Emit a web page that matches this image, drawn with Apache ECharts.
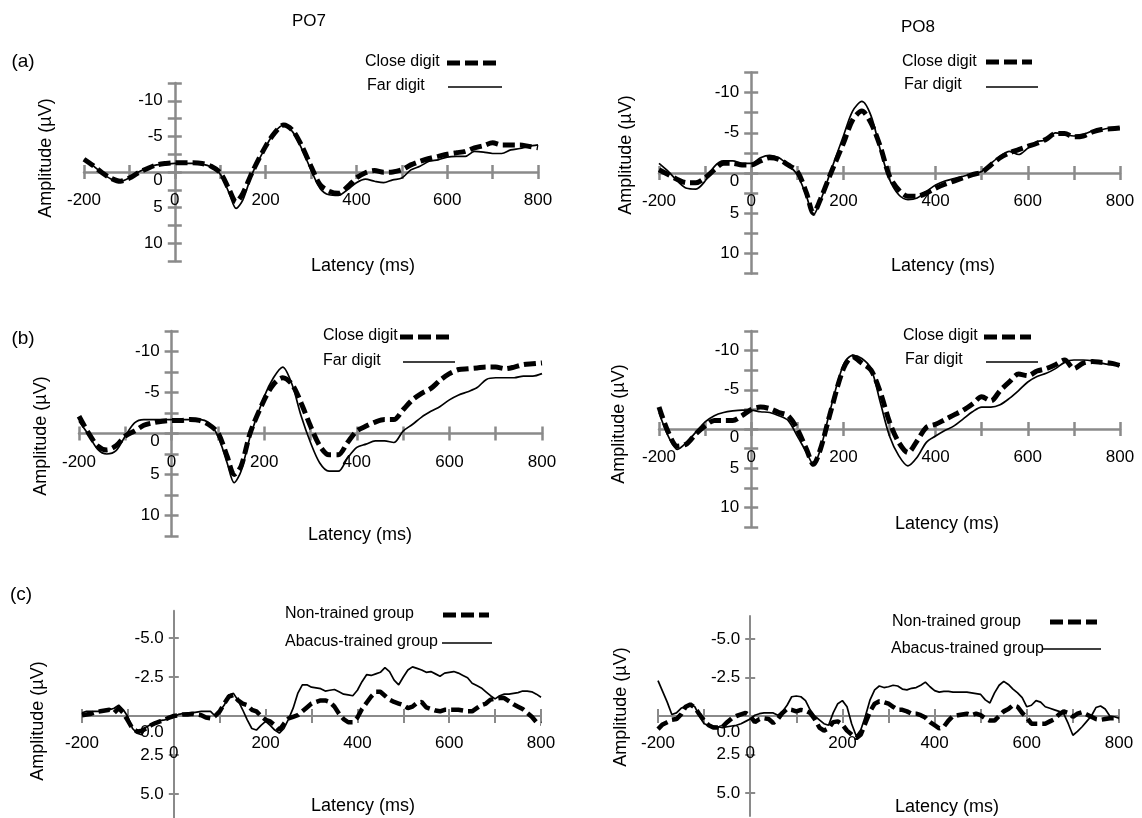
<!DOCTYPE html>
<html><head><meta charset="utf-8">
<script src="https://cdn.jsdelivr.net/npm/echarts@6/dist/echarts.min.js"></script>
<style>html,body{margin:0;padding:0;background:#fff;}#c{width:1142px;height:818px;}</style>
</head><body><div id="c"></div>
<script>
// ---------- DATA ----------
const latencyAB = [-200,-180,-160,-140,-120,-100,-80,-60,-40,-20,0,20,40,60,80,100,120,135,150,170,200,220,240,260,280,300,320,340,360,380,400,420,440,460,480,500,520,540,560,580,600,620,640,660,680,700,720,740,760,780,800];

const po7A_close = [-1.8,-0.9,0.1,0.9,1.3,0.85,0.1,-0.5,-1.0,-1.2,-1.3,-1.3,-1.3,-1.2,-0.8,0.1,2.5, 4.2,3.0,0.1, -3.6,-5.5,-6.6,-5.8,-3.6,-0.8,1.8,2.7,3.0,2.1, 0.85,0.1,-0.2,0.05,0,-0.3,-1.0,-1.5,-1.9,-2.2, -2.5,-2.7,-2.9,-3.4,-3.7,-4.1,-3.8,-3.8,-3.8,-3.6, -3.4];
const po7A_far = [-1.8,-0.9,0.2,1.0,1.3,0.8,0.0,-0.6,-1.0,-1.1,-1.2,-1.2,-1.2,-1.1,-0.7,0.3,3.0, 5.1,3.9,0.3, -3.5,-5.6,-6.6,-5.6,-3.2,-0.3,2.3,3.2,3.3,2.5, 1.5,1.0,1.3,1.5,1.1,0.85,-0.3,-0.8,-1.5,-1.7, -2.1,-2.2,-2.2,-2.9,-2.8,-2.6,-2.6,-3.1,-3.3,-3.6, -3.8];
const po8A_close = [-0.4,0.2,0.8,1.2,1.2,0.6,-0.4,-1.2,-1.2,-1.0,-1.0,-1.5,-1.9,-1.7,-1.0,-0.2,2.5, 5.0,3.3,0.4, -3.7,-6.6,-7.7,-6.2,-3.3,0.4,2.1,2.9,2.9,2.5, 1.9,1.4,1.0,0.6,0.2,-0.1,-1.0,-1.9,-2.5,-2.9, -3.3,-3.7,-4.2,-4.9,-4.9,-4.5,-4.6,-5.1,-5.4,-5.5, -5.6];
const po8A_far = [-1.2,-0.2,1.0,1.9,2.0,1.0,-0.8,-1.5,-1.5,-1.2,-1.2,-1.9,-2.2,-1.9,-1.0,0.2,2.9, 5.2,3.5,0.2, -4.6,-7.7,-8.9,-7.1,-2.9,0.8,2.7,3.3,3.1,2.3, 1.5,1.0,0.7,0.4,0.1,-0.2,-1.2,-2.1,-2.7,-2.3, -3.1,-3.9,-4.1,-5.0,-4.8,-4.6,-4.8,-5.2,-5.4,-5.6, -5.6];
const po7B_close = [-2.1,-0.1,1.5,2.0,1.5,0.3,-0.3,-1.0,-1.3,-1.5,-1.6,-1.6,-1.7,-1.6,-1.1,-0.1,2.8, 5.0,4.0,-0.1, -4.1,-6.0,-6.8,-6.0,-3.7,-0.9,1.5,2.6,2.6,1.1, -0.3,-0.9,-1.4,-1.7,-1.7,-2.9,-4.1,-4.9,-5.5,-6.5, -7.3,-7.8,-7.9,-8.0,-8.1,-8.1,-7.9,-8.1,-8.4,-8.5, -8.6];
const po7B_far = [-1.5,0.1,1.9,2.5,2.1,0.3,-1.3,-1.7,-1.7,-1.7,-1.7,-1.7,-1.7,-1.7,-1.3,0.3,3.6, 6.0,4.6,0.3, -4.5,-6.8,-8.1,-6.0,-2.1,1.1,3.6,4.6,4.6,3.0, 1.7,1.3,0.9,0.9,1.1,-0.3,-1.1,-2.0,-2.7,-3.3, -4.1,-4.7,-5.1,-5.6,-6.6,-6.8,-6.8,-6.8,-7.0,-7.0, -7.3];
const po8B_close = [-2.8,0.4,2.2,1.9,0.6,-0.4,-1.1,-1.1,-1.1,-1.7,-2.5,-2.8,-2.6,-2.1,-1.7,0,2.6, 4.5,2.6,-1.7, -7.7,-9.2,-8.4,-7.5,-4.7,-0.9,1.7,3.0,1.5,-0.2, -0.6,-1.2,-1.8,-2.4,-3.2,-4.1,-3.6,-4.9,-6.0,-7.0, -6.8,-7.4,-7.7,-8.2,-8.8,-7.7,-8.4,-8.6,-8.5,-8.4, -8.1];
const po8B_far = [-2.1,0.9,2.6,1.7,0.4,-0.9,-1.7,-2.1,-2.3,-2.4,-2.4,-2.2,-2.1,-1.7,-1.1,0.9,3.0, 4.5,2.6,-2.1, -8.2,-9.4,-9.0,-7.7,-3.4,0.9,3.4,4.7,3.6,1.7, 0.9,0.2,-0.4,-1.3,-2.2,-2.8,-2.8,-3.1,-3.9,-4.9, -6.0,-6.7,-7.1,-7.7,-8.5,-8.8,-8.8,-8.7,-8.4,-8.2, -8.1];

const latencyC = [-200,-190,-180,-170,-160,-150,-140,-130,-120,-110,
 -100,-90,-80,-70,-60,-50,-40,-30,-20,-10,
 0,10,20,30,40,50,60,70,80,90,
 100,110,120,130,140,150,160,170,180,190,
 200,210,220,230,240,250,260,270,280,290,
 300,310,320,330,340,350,360,370,380,390,
 400,410,420,430,440,450,460,470,480,490,
 500,510,520,530,540,550,560,570,580,590,
 600,610,620,630,640,650,660,670,680,690,
 700,710,720,730,740,750,760,770,780,790,
 800];

const po7C_abacus = [-0.2,-0.3,-0.3,-0.3,-0.3,-0.35,-0.4,-0.5,-0.7,-0.4,
 0.05,0.8,1.1,1.2,0.7,0.55,0.4,0.3,0.25,0.15,
 0.05,-0.1,-0.15,-0.2,-0.2,-0.25,-0.3,-0.3,-0.3,0.0,
 -0.3,-0.7,-1.35,-1.45,-1.0,-0.4,0.25,0.8,0.9,0.6,
 0.35,0.6,0.9,1.1,0.8,0.2,-0.5,-1.45,-2.0,-2.0,
 -1.85,-1.8,-1.75,-1.6,-1.65,-1.7,-1.55,-1.4,-1.35,-1.3,
 -1.65,-2.2,-2.65,-2.6,-2.7,-2.8,-3.1,-2.85,-2.3,-2.0,
 -2.5,-2.95,-3.15,-3.05,-2.95,-2.8,-2.85,-2.7,-2.55,-2.75,
 -2.8,-2.85,-2.75,-2.6,-2.45,-2.1,-1.95,-1.8,-1.55,-1.3,
 -1.1,-1.3,-1.4,-1.4,-1.45,-1.5,-1.6,-1.6,-1.55,-1.4,
 -1.2];
const po7C_non = [-0.05,-0.1,-0.15,-0.25,-0.3,-0.35,-0.4,-0.2,-0.5,-0.2,
 0.3,0.8,1.0,0.95,0.8,0.6,0.45,0.35,0.25,0.1,
 0.0,-0.05,-0.1,-0.1,-0.15,-0.1,-0.05,0.1,0.15,0.0,
 -0.3,-0.8,-1.25,-1.35,-1.0,-0.8,-0.7,-0.4,-0.3,0.0,
 0.25,0.35,0.6,0.9,0.5,0.15,0.05,-0.05,-0.3,-0.55,
 -0.8,-0.9,-1.0,-1.0,-0.9,-0.6,-0.15,0.2,0.4,0.4,
 0.1,-0.45,-0.85,-1.25,-1.55,-1.55,-1.3,-1.05,-0.9,-0.8,
 -0.7,-0.5,-0.6,-0.85,-0.9,-0.55,-0.45,-0.35,-0.3,-0.4,
 -0.4,-0.4,-0.4,-0.35,-0.3,-0.3,-0.5,-0.7,-0.8,-1.05,
 -1.1,-1.15,-1.15,-0.95,-0.75,-0.6,-0.45,-0.2,0.05,0.4,
 0.5];
const po8C_abacus = [-2.3,-1.6,-0.9,-0.1,-0.2,-0.5,-0.65,-0.75,-0.6,0.0,
 0.5,0.6,0.65,0.7,0.75,0.7,0.65,0.6,0.5,0.35,
 0.2,-0.05,-0.15,-0.2,-0.2,-0.2,-0.05,-0.3,-0.7,-1.25,
 -1.3,-1.25,-1.0,-0.4,0.0,0.25,0.5,0.6,-0.2,-0.8,
 -1.0,-0.6,0.5,1.3,0.9,0.0,-1.05,-1.7,-1.95,-1.85,
 -1.9,-2.0,-1.95,-1.75,-1.7,-1.8,-1.85,-2.0,-2.2,-1.9,
 -1.65,-1.55,-1.6,-1.6,-1.55,-1.55,-1.55,-1.55,-1.5,-1.45,
 -1.4,-1.05,-0.85,-1.5,-2.0,-2.25,-2.05,-1.75,-1.5,-1.2,
 -0.6,-0.7,-1.0,-0.9,-0.6,-0.5,-0.4,-0.3,-0.15,0.5,
 1.25,1.0,0.7,0.35,0.0,-0.55,-0.65,-0.45,0.0,0.05,
 0.15];
const po8C_non = [0.85,0.55,0.4,0.25,0.2,-0.1,-0.6,-0.75,-0.55,-0.1,
 0.3,0.6,0.75,0.75,0.7,0.4,0.15,0.0,-0.1,-0.2,
 0.0,0.4,0.2,0.15,0.2,0.45,0.2,-0.2,-0.45,-0.4,
 -0.3,-0.4,-0.35,-0.2,0.2,0.75,0.95,0.8,0.4,0.35,
 0.55,0.95,1.2,1.45,1.2,0.45,-0.3,-0.8,-0.95,-0.9,
 -0.8,-0.6,-0.4,-0.4,-0.3,-0.15,-0.15,-0.05,0.1,0.4,
 0.6,0.8,0.7,0.3,0.0,-0.05,-0.1,-0.15,-0.05,-0.15,
 -0.05,0.15,0.3,0.3,0.0,-0.3,-0.45,-0.7,-0.6,-0.2,
 0.1,0.5,0.5,0.5,0.5,0.35,0.2,-0.1,-0.3,-0.2,
 0.05,-0.15,-0.25,-0.1,0.05,0.2,0.25,0.2,0.15,0.15,
 0.15];

const xTickLabels = [-200, 0, 200, 400, 600, 800];
const yTickLabelsAB = [-10, -5, 0, 5, 10];
const yTickLabelsC = [-5, -2.5, 0, 2.5, 5];
const seriesNamesAB = ['Close digit', 'Far digit'];
const seriesNamesC = ['Non-trained group', 'Abacus-trained group'];

// ---------- LAYOUT / STYLE ----------
const FONT = "'Liberation Sans', Arial, sans-serif";
const AX = '#8a8a8a';
const panels = [
  {left:84,  top:83,    width:454, height:178,   ymax:12.5, kind:'ab', lat:latencyAB, dash:po7A_close, solid:po7A_far},
  {left:659, top:72.5,  width:461, height:201,   ymax:12.5, kind:'ab', lat:latencyAB, dash:po8A_close, solid:po8A_far},
  {left:79,  top:331,   width:463, height:205,   ymax:12.5, kind:'ab', lat:latencyAB, dash:po7B_close, solid:po7B_far},
  {left:659, top:331,   width:461, height:196,   ymax:12.5, kind:'ab', lat:latencyAB, dash:po8B_close, solid:po8B_far},
  {left:82,  top:610.7, width:459, height:210.6, ymax:6.75, kind:'c',  lat:latencyC,  dash:po7C_non,   solid:po7C_abacus},
  {left:658, top:616,   width:461, height:200,   ymax:6.5,  kind:'c',  lat:latencyC,  dash:po8C_non,   solid:po8C_abacus}
];

const grid = [], xAxis = [], yAxis = [], series = [];
panels.forEach((p, i) => {
  const isC = p.kind === 'c';
  const axW = isC ? 2 : 2.5;
  // axes cross at (0 ms, 0 µV): shift them inside the grid
  const xOff = -p.height / 2;            // value 0 is mid-height (symmetric range)
  const yOff = -p.width * 0.2;           // 0 ms is 20% from the left (-200..800)
  grid.push({left:p.left, top:p.top, width:p.width, height:p.height, containLabel:false, outerBoundsMode:'none'});
  const xFmt = v => {
    if (xTickLabels.indexOf(v) < 0) return '';
    if (v === 0 && isC) return '{z|0}';
    return String(v);
  };
  const xBase = {gridIndex:i, type:'value', min:-200, max:800, interval:100, position:'bottom', offset:xOff, splitLine:{show:false}};
  xAxis.push(Object.assign({}, xBase, {
    axisLine:{show:true, onZero:false, lineStyle:{color:AX, width:axW}},
    axisTick:{show:true, inside:false, length:7, lineStyle:{color:AX, width:axW}},
    axisLabel:{show:true, margin:isC ? 19 : 20, color:'#000', fontSize:17, fontFamily:FONT, formatter:xFmt,
      rich:{z:{padding:[10,0,0,0], fontSize:17, fontFamily:FONT, color:'#000'}}}
  }));
  xAxis.push(Object.assign({}, xBase, {
    axisLine:{show:false, onZero:false},
    axisTick:{show:true, inside:true, length:7, lineStyle:{color:AX, width:axW}},
    axisLabel:{show:false}
  }));
  const yBase = {gridIndex:i, type:'value', inverse:true, min:-p.ymax, max:p.ymax, position:'left', offset:yOff, splitLine:{show:false}};
  if (!isC) yBase.interval = 2.5;
  const yFmt = isC
    ? (v => v === 0 ? '{z|0.0}' : v.toFixed(1))
    : (v => yTickLabelsAB.indexOf(v) < 0 ? '' : (v === 0 ? '{z|0}' : String(v)));
  const yLab = {show:true, margin:isC ? 10 : 12, color:'#000', fontSize:17, fontFamily:FONT, formatter:yFmt,
      rich:{z:{padding:[isC ? 32 : 16,0,0,0], fontSize:17, fontFamily:FONT, color:'#000'}}};
  const yTick1 = {show:true, inside:false, length:isC ? 5 : 7, lineStyle:{color:AX, width:axW}};
  const yTick2 = {show:true, inside:true, length:isC ? 5 : 7, lineStyle:{color:AX, width:axW}};
  if (isC) {
    yLab.customValues = yTickLabelsC;
    yTick1.customValues = yTickLabelsC;
    yTick2.customValues = yTickLabelsC;
  }
  yAxis.push(Object.assign({}, yBase, {
    axisLine:{show:true, onZero:false, lineStyle:{color:AX, width:axW}},
    axisTick:yTick1, axisLabel:yLab
  }));
  yAxis.push(Object.assign({}, yBase, {
    axisLine:{show:false, onZero:false},
    axisTick:yTick2, axisLabel:{show:false}
  }));
  const names = isC ? seriesNamesC : seriesNamesAB;
  series.push({
    name:names[0], type:'line', xAxisIndex:2*i, yAxisIndex:2*i, showSymbol:false, symbol:'none',
    smooth:isC ? false : 0.3, silent:true,
    lineStyle:{color:'#000', width:isC ? 4.5 : 5, type:[12,5]},
    data:p.lat.map((t, k) => [t, p.dash[k]])
  });
  series.push({
    name:names[1], type:'line', xAxisIndex:2*i, yAxisIndex:2*i, showSymbol:false, symbol:'none',
    smooth:isC ? false : 0.3, silent:true,
    lineStyle:{color:'#000', width:1.7},
    data:p.lat.map((t, k) => [t, p.solid[k]])
  });
});

// ---------- TEXT & LEGENDS ----------
function txt(s, x, y, size, opts) {
  opts = opts || {};
  return {type:'text', x:x, y:y, rotation:opts.rot || 0, silent:true,
    style:{text:s, fill:'#000', fontSize:size, fontFamily:FONT, align:opts.align || 'center', verticalAlign:'middle'}};
}
function seg(x1, x2, y, dashed) {
  return {type:'line', silent:true, shape:{x1:x1, y1:y, x2:x2, y2:y},
    style:{stroke:'#000', lineWidth:dashed ? 5 : 1.7, lineDash:dashed ? [13,5] : null}};
}
const graphic = [
  txt('PO7', 309, 21, 17), txt('PO8', 918, 27, 17),
  txt('(a)', 23, 62, 19), txt('(b)', 23, 339, 19), txt('(c)', 21, 595, 19),
  // axis names
  txt('Amplitude (µV)', 46, 158, 18, {rot:Math.PI/2}),
  txt('Amplitude (µV)', 626, 155, 18, {rot:Math.PI/2}),
  txt('Amplitude (µV)', 41, 436, 18, {rot:Math.PI/2}),
  txt('Amplitude (µV)', 619, 424, 18, {rot:Math.PI/2}),
  txt('Amplitude (µV)', 38, 721, 18, {rot:Math.PI/2}),
  txt('Amplitude (µV)', 621, 707, 18, {rot:Math.PI/2}),
  txt('Latency (ms)', 363, 266, 18), txt('Latency (ms)', 943, 266, 18),
  txt('Latency (ms)', 360, 535, 18), txt('Latency (ms)', 947, 524, 18),
  txt('Latency (ms)', 363, 806, 18), txt('Latency (ms)', 947, 807, 18),
  // legends
  txt(seriesNamesAB[0], 365, 62, 16, {align:'left'}), seg(447, 497, 63, true),
  txt(seriesNamesAB[1], 367, 86, 16, {align:'left'}), seg(448, 502, 87, false),
  txt(seriesNamesAB[0], 902, 62, 16, {align:'left'}), seg(986, 1032, 62, true),
  txt(seriesNamesAB[1], 904, 85, 16, {align:'left'}), seg(986, 1038, 87, false),
  txt(seriesNamesAB[0], 323, 336, 16, {align:'left'}), seg(400, 454, 337, true),
  txt(seriesNamesAB[1], 323, 361, 16, {align:'left'}), seg(403, 455, 362, false),
  txt(seriesNamesAB[0], 903, 336, 16, {align:'left'}), seg(984, 1031, 337, true),
  txt(seriesNamesAB[1], 905, 360, 16, {align:'left'}), seg(986, 1038, 362, false),
  txt(seriesNamesC[0], 285, 614, 16, {align:'left'}), seg(443, 489, 615, true),
  txt(seriesNamesC[1], 285, 642, 16, {align:'left'}), seg(442, 492, 643, false),
  txt(seriesNamesC[0], 892, 622, 16, {align:'left'}), seg(1050, 1097, 622, true),
  txt(seriesNamesC[1], 891, 649, 16, {align:'left'}), seg(1043, 1101, 649, false)
];

const chart = echarts.init(document.getElementById('c'), null, {renderer:'canvas'});
chart.setOption({
  animation:false, backgroundColor:'#fff',
  grid:grid, xAxis:xAxis, yAxis:yAxis, series:series, graphic:graphic
});
</script></body></html>
